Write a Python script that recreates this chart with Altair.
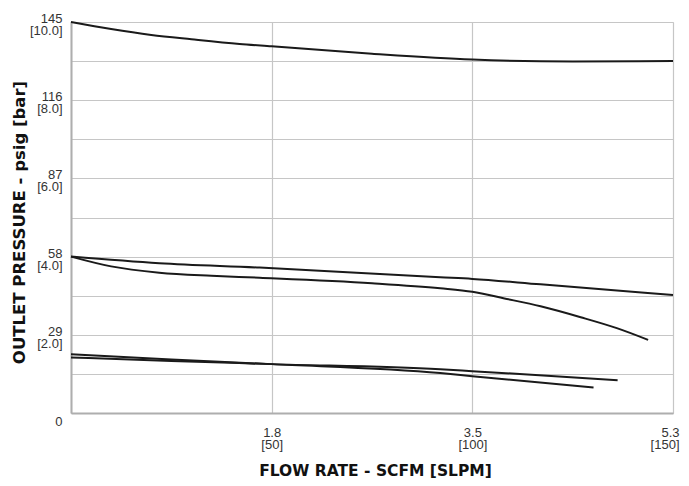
import altair as alt
import pandas as pd

# ---- data (flow in SLPM, outlet pressure in bar) ----
top_x = [0, 10, 20, 30, 42, 50, 75, 100, 125, 150]
top_y = [10.0, 9.82, 9.67, 9.56, 9.44, 9.38, 9.19, 9.04, 8.99, 9.0]

mid_a_x = [0, 22, 47, 92, 100, 117, 150]
mid_a_y = [4.0, 3.83, 3.72, 3.47, 3.43, 3.29, 3.02]

mid_b_x = [0, 10, 22, 35, 47, 75, 92, 100, 108, 117, 127, 136, 143.8]
mid_b_y = [4.0, 3.75, 3.59, 3.51, 3.46, 3.32, 3.19, 3.10, 2.93, 2.73, 2.45, 2.17, 1.87]

low_a_x = [0, 25, 50, 92, 100, 130.2]
low_a_y = [1.50, 1.37, 1.25, 1.02, 0.94, 0.65]

low_b_x = [0, 25, 50, 92, 100, 136.2]
low_b_y = [1.42, 1.33, 1.25, 1.12, 1.07, 0.84]

x_ticks = [50, 100, 150]
x_scfm = ["1.8", "3.5", "5.3"]
y_ticks = [0, 2, 4, 6, 8, 10]
y_psig = ["0", "29", "58", "87", "116", "145"]

rows = []
for name, xs, ys in [("top", top_x, top_y), ("midA", mid_a_x, mid_a_y),
                     ("midB", mid_b_x, mid_b_y), ("lowA", low_a_x, low_a_y),
                     ("lowB", low_b_x, low_b_y)]:
    for xv, yv in zip(xs, ys):
        rows.append({"series": name, "flow": xv, "bar": yv})
df = pd.DataFrame(rows)

# label expressions
x_expr = ""
for t, s in zip(x_ticks, x_scfm):
    x_expr += f"datum.value == {t} ? ['{s}', '[{t}]'] : "
x_expr += "''"

y_expr = ""
for t, p in zip(y_ticks, y_psig):
    if t == 0:
        y_expr += f"datum.value == {t} ? ['', '{p}'] : "
    else:
        y_expr += f"datum.value == {t} ? ['{p}\u00a0', '[{t:.1f}]'] : "
y_expr += "''"

grid_color = "#c6c6c6"
frame_color = "#aeaeae"

chart = alt.Chart(df).mark_line(
    color="#1a1a1a", strokeWidth=2, interpolate="monotone"
).encode(
    x=alt.X("flow:Q",
            scale=alt.Scale(domain=[0, 150], nice=False, zero=True),
            axis=alt.Axis(
                values=[0, 50, 100, 150], labelExpr=x_expr,
                title="FLOW RATE - SCFM [SLPM]",
                ticks=False, grid=True, gridColor=grid_color, gridWidth=1.2,
                domainColor=frame_color, domainWidth=2,
                labelFont="Liberation Sans", labelFontSize=13, labelColor="#333333",
                labelBaseline="top", labelPadding=13.5, labelLineHeight=12,
                labelFlush=True, labelFlushOffset=6,
                titleFont="DejaVu Sans", titleFontWeight="bold", titleFontSize=15.5,
                titleColor="#111111", titleX=304, titleY=57,
                titleAlign="center", titleBaseline="middle",
            )),
    y=alt.Y("bar:Q",
            scale=alt.Scale(domain=[0, 10], nice=False),
            axis=alt.Axis(
                values=list(range(0, 11)), labelExpr=y_expr,
                title="OUTLET PRESSURE - psig [bar]",
                ticks=False, grid=True, gridColor=grid_color, gridWidth=1.2,
                domainColor=frame_color, domainWidth=2,
                labelFont="Liberation Sans", labelFontSize=13, labelColor="#333333",
                labelAlign="right", labelBaseline="middle", labelPadding=9,
                labelLineHeight=12, labelOffset=-3.5, labelFlush=False,
                labelOverlap=False,
                titleFont="DejaVu Sans", titleFontWeight="bold", titleFontSize=16.5,
                titleColor="#111111", titleX=-52, titleY=200,
                titleAlign="center", titleBaseline="middle", titleAngle=270,
            )),
    detail="series:N",
).properties(
    width=602, height=391,
    autosize=alt.AutoSizeParams(type="none"),
    padding={"left": 63, "top": 14, "right": 8, "bottom": 65},
).configure_view(
    stroke=frame_color, strokeWidth=2
).configure(background="white")

chart.save("out.html", embed_options={"renderer": "svg", "actions": False})
